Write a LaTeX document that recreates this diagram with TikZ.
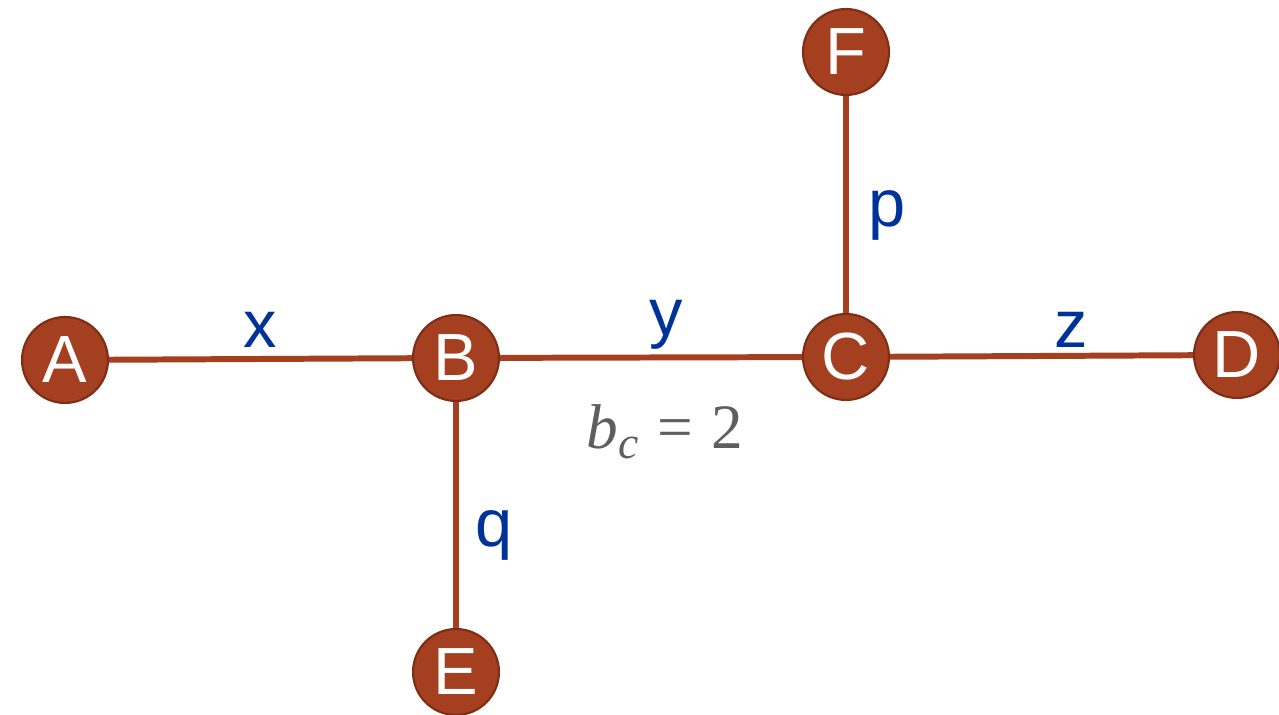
\documentclass[tikz,border=0pt]{standalone}
\usepackage{fontspec}
\setmainfont{Liberation Sans}
\newfontfamily\notefont{Liberation Serif}
\usetikzlibrary{positioning}
\definecolor{crust}{HTML}{A43F20}
\definecolor{crustdark}{HTML}{7E2D16}
\definecolor{cblue}{HTML}{00339A}
\definecolor{cgrey}{HTML}{5E5E5E}
\tikzset{
  vertex/.style={circle, draw=crustdark, fill=crust, line width=1.2pt, minimum size=1.72cm, inner sep=0pt,
    text=white, font=\fontsize{38}{38}\selectfont},
  edge/.style={draw=crust, line width=3.4pt},
  elabel/.style={text=cblue, font=\fontsize{38}{38}\selectfont},
  note/.style={text=cgrey, font=\notefont\fontsize{36}{36}\selectfont},
}

\begin{document}
\begin{tikzpicture}[x=0.02cm, y=0.02cm]
  \useasboundingbox (0,0) rectangle (1279,715);
  % edges first, vertices on top
  \coordinate (pa) at (65,355);
  \coordinate (pb) at (456,357);
  \coordinate (pc) at (846,358);
  \coordinate (pd) at (1237,360);
  \coordinate (pe) at (456,43);
  \coordinate (pf) at (846,663);
  \foreach \s/\t in {pa/pb, pb/pc, pc/pd, pb/pe, pc/pf} {
    \draw[edge] (\s) -- (\t);
  }
  % the six vertices
  \foreach \p/\n/\l in {pa/A/A, pb/B/B, pc/C/C, pd/D/D, pe/E/E, pf/F/F} {
    \node[vertex] (\n) at (\p) {\l};
  }
  % edge labels
  \node[elabel] (lx) at (260,385) {x};
  \node[elabel] (ly) at (666,390) {y};
  \node[elabel] (lz) at (1071,385) {z};
  \node[elabel] (lp) at (887,500) {p};
  \node[elabel] (lq) at (494,180) {q};
  \node[note] (bc) at (665,283) {\textit{b}\raisebox{-0.35ex}{\fontsize{26}{26}\selectfont\textit{c}}\hspace{0.3em}=\hspace{0.3em}2};
\end{tikzpicture}
\end{document}
